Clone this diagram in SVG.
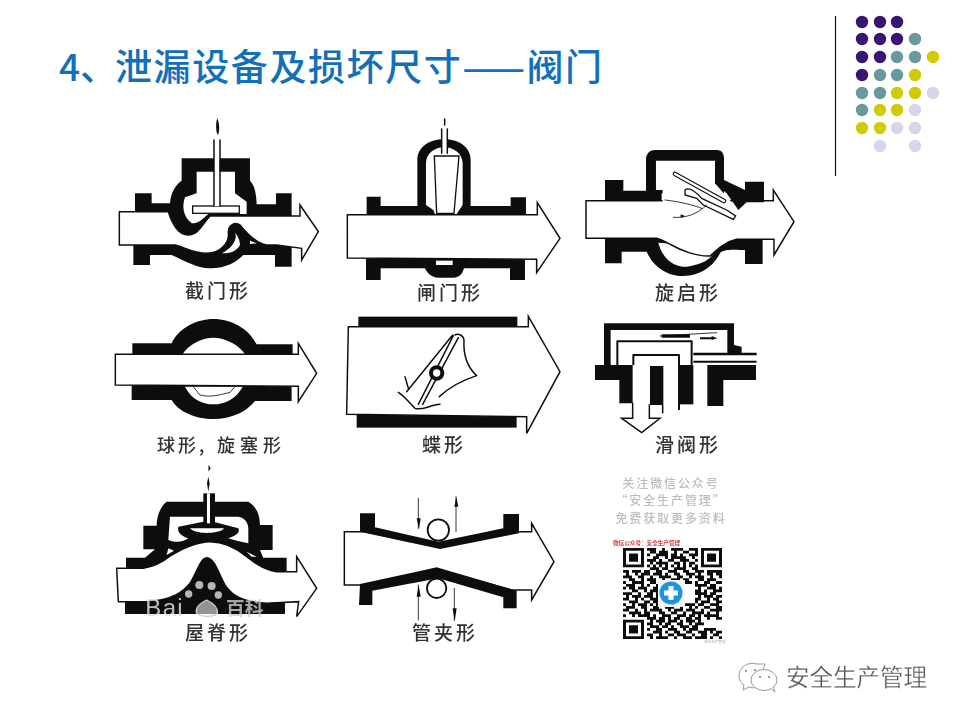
<svg xmlns="http://www.w3.org/2000/svg" width="960" height="720" viewBox="0 0 960 720">
<style>
.b{fill:#111}
.w{fill:#fff}
.f{fill:#fff;stroke:#111;stroke-width:4.5;stroke-linejoin:miter}
.l{fill:none;stroke:#111;stroke-width:4.5;stroke-linecap:round;stroke-linejoin:round}
.n{fill:none;stroke:#111;stroke-width:2.5;stroke-linecap:round}
.cap{font-family:"Noto Sans CJK SC","Liberation Sans",sans-serif;font-size:19px;font-weight:500;letter-spacing:3px;fill:#333}
.wm{font-family:"Noto Sans CJK SC","Liberation Sans",sans-serif;font-weight:500;font-size:12px;letter-spacing:1.9px;fill:#bdbdbd;text-anchor:middle}
.p{fill:#3a1473}.t{fill:#669a9c}.y{fill:#cfcc05}.v{fill:#d6d6ea}
.ttl{font-family:"Noto Sans CJK SC","Liberation Sans",sans-serif;font-size:37px;font-weight:500;fill:#1270bb}
</style>
<defs>
<filter id="soft" x="-5%" y="-5%" width="110%" height="110%"><feGaussianBlur stdDeviation="0.55"/></filter>
<filter id="soft2" x="-5%" y="-5%" width="110%" height="110%"><feGaussianBlur stdDeviation="0.35"/></filter>
</defs>
<rect width="960" height="720" fill="#fff"/>

<text id="title" class="ttl" y="81"><tspan x="59">4、</tspan><tspan x="115" letter-spacing="1.6">泄漏设备及损坏尺寸——阀门</tspan></text>

<g id="ornament">
<line x1="835.500" y1="16" x2="835.500" y2="176" stroke="#111" stroke-width="1.2"/>
<g class="p"><circle cx="862" cy="22" r="6.2"/><circle cx="880" cy="22" r="6.2"/><circle cx="897" cy="22" r="6.2"/><circle cx="862" cy="39" r="6.2"/><circle cx="880" cy="39" r="6.2"/><circle cx="897" cy="39" r="6.2"/><circle cx="862" cy="57" r="6.2"/><circle cx="880" cy="57" r="6.2"/><circle cx="862" cy="75" r="6.2"/></g>
<g class="t"><circle cx="915" cy="39" r="6.2"/><circle cx="897" cy="57" r="6.2"/><circle cx="915" cy="57" r="6.2"/><circle cx="880" cy="75" r="6.2"/><circle cx="897" cy="75" r="6.2"/><circle cx="862" cy="93" r="6.2"/><circle cx="880" cy="93" r="6.2"/><circle cx="862" cy="110" r="6.2"/></g>
<g class="y"><circle cx="933" cy="57" r="6.2"/><circle cx="915" cy="75" r="6.2"/><circle cx="897" cy="93" r="6.2"/><circle cx="915" cy="93" r="6.2"/><circle cx="880" cy="110" r="6.2"/><circle cx="897" cy="110" r="6.2"/><circle cx="862" cy="128" r="6.2"/><circle cx="880" cy="128" r="6.2"/></g>
<g class="v"><circle cx="933" cy="93" r="6.2"/><circle cx="915" cy="110" r="6.2"/><circle cx="897" cy="128" r="6.2"/><circle cx="915" cy="128" r="6.2"/><circle cx="880" cy="146" r="6.2"/><circle cx="915" cy="146" r="6.2"/></g>
</g>

<g id="valves" filter="url(#soft)">

<g id="valve-globe" transform="translate(100,110) scale(.3333)">
<path class="b" d="M105,250H155V280H210C212,250 225,225 245,212V145H450V212C465,225 470,260 470,283H528V250H575V320H340V385H195V320H105Z"/>
<path class="b" d="M100,400H350L400,335H440L530,400H575V470H525V435H430C410,455 380,475 330,475C290,475 250,450 215,435H150V465H100Z"/>
<path class="w" d="M290,185H405V250L440,275V312H325C305,330 295,340 275,340C250,320 245,290 255,262L290,250Z"/>
<path class="f" d="M58,305H205C215,340 235,375 265,375C295,375 305,345 330,318H600V285L655,365L605,450V415L530,405H500C470,400 440,370 420,345C405,335 385,345 385,365C390,400 360,430 320,430C280,430 250,410 225,405H58Z"/>
<path class="w" d="M405,368C412,380 405,410 365,430C390,430 410,425 420,405C420,390 412,375 405,368Z"/>
<path class="w" d="M450,392L470,400L450,402Z"/>
<rect x="278" y="288" width="140" height="22" fill="#fff" stroke="#111" stroke-width="4"/>
<rect x="342" y="85" width="17" height="203" fill="#fff"/>
<path class="l" d="M342,90V287M360,90V287"/>
<path class="b" d="M352,25C358,40 360,60 354,75C348,70 346,40 352,25Z"/>
</g>

<g id="valve-gate" transform="translate(340,110) scale(.3333)">
<path class="b" d="M80,260H122V288H232V150C232,110 270,88 312,88C355,88 392,110 392,150V288H512V262H558V320H80Z"/>
<path class="w" d="M258,160C258,130 285,112 312,112C340,112 368,130 368,160V285L350,312H285L280,300L258,285Z"/>
<path class="f" style="stroke-width:4" d="M283,138H357L342,310H290Z"/>
<path class="b" d="M78,445H555V510H510V475H372C368,490 360,503 340,503H295C275,503 262,490 255,475H122V510H78Z"/>
<rect x="288" y="452" width="50" height="13" fill="#fff"/>
<path class="f" d="M22,314H592V278L660,385L590,488V448L22,444Z"/>
<rect x="306" y="55" width="15" height="78" fill="#fff"/>
<path class="l" d="M305,57V130M322,57V130"/>
<path class="l" d="M314,27V45"/>
</g>

<g id="valve-swing" transform="translate(570,130) scale(.3333)">
<path class="b" d="M105,150H160V182H228V85C230,70 240,60 255,60H440C455,60 462,70 462,85V190H258V180H275V215H105Z"/>
<path class="b" d="M105,320H578V402H525V360C500,360 460,355 450,370C430,410 390,438 340,438C290,438 250,410 230,365H155V400H105Z"/>
<path class="w" d="M265,338C280,395 320,412 350,410C385,405 410,395 425,378L360,345Z"/>
<path class="f" d="M48,212H610V180L672,275L612,375V328H500C465,335 440,360 420,378C380,380 330,360 305,345C290,338 280,330 260,325H48Z"/>
<path class="w" d="M258,92H435V160L505,240L495,262L290,262L278,216V180H258Z"/>
<path class="b" d="M435,140L462,150L525,180V155H582V217H530L505,240L470,190L435,160Z"/>
<path class="f" style="stroke-width:4" d="M345,180C355,172 372,180 395,205L470,240L497,258L490,268L400,225L380,205L345,195Z"/>
<path d="M315,132L462,213" fill="none" stroke="#111" stroke-width="14" stroke-linecap="round"/>
<path d="M315,132L462,213" fill="none" stroke="#fff" stroke-width="7.5" stroke-linecap="round"/>
<path class="n" d="M285,210C330,215 370,225 395,235M310,262C350,265 385,250 410,225"/>
<path d="M345,258L332,253V264Z" fill="#111"/>
</g>

<g id="valve-ball" transform="translate(100,305) scale(.3333)">
<path class="b" d="M97,115H215C235,70 290,42 340,42C395,42 445,70 470,118H578V155H97Z"/>
<path class="w" d="M245,152C265,115 310,98 340,98C375,98 420,120 438,152Z"/>
<path class="b" d="M95,240H575V288H465C440,320 395,342 340,342C285,342 235,320 215,285H95Z"/>
<path class="w" d="M255,245C275,285 310,298 340,298C375,298 410,280 428,245Z"/>
<path class="n" d="M280,245L300,270C330,278 360,270 390,262L405,245"/>
<path class="f" d="M46,148H595V115L650,205L595,290V244L46,240Z"/>
</g>

<g id="valve-butterfly" transform="translate(340,305) scale(.3333)">
<rect x="55" y="35" width="477" height="38" class="b"/>
<rect x="50" y="330" width="480" height="38" class="b"/>
<path class="f" d="M25,65H565V34L660,200L560,385V335L20,328Z"/>
<path class="l" d="M345,90C355,85 370,90 372,105C370,140 375,180 410,212C370,225 330,245 298,275M338,90L200,260M355,98L248,298M340,92L235,298M195,215L205,250M175,262C195,275 205,290 225,310C245,318 270,300 300,298"/>
<circle cx="290" cy="204" r="23" class="b"/>
<circle cx="290" cy="204" r="11" class="w"/>
</g>

<g id="valve-slide" transform="translate(580,310) scale(.3333)">
<path class="b" d="M72,40H462V105L485,110V128H530V136H340V128H442V60H92V165H72Z"/>
<path class="b" d="M45,165H158V280H118V210H45Z"/>
<rect x="210" y="168" width="40" height="117" class="b"/>
<rect x="300" y="165" width="40" height="118" class="b"/>
<path class="b" d="M382,165H528V210H430V288H382Z"/>
<path class="b" d="M340,152H530V158H340Z"/>
<path class="l" style="stroke-width:6;stroke-linecap:butt" d="M112,165V94H335V165M160,165V135H297V300"/>
<path class="l" style="stroke-linecap:butt" d="M248,285V310"/>
<path class="l" style="stroke-linejoin:miter" d="M158,280V325H125L185,368L240,325H208V285"/>
<path class="b" d="M245,73H330V83H245ZM360,82H395V88H360ZM395,78L412,85L395,90Z"/>
<path class="n" d="M240,78L410,68"/>
</g>

<g id="valve-diaphragm" transform="translate(100,460) scale(.3333)">
<path class="b" d="M200,125H445C470,140 480,165 480,195H518V270H480L490,293H560V335H510V420H555V462H75V420H120V330H78V293H135L165,268H130V197H170C170,170 180,140 200,125Z"/>
<path class="w" d="M210,170H415C440,175 445,195 445,205V250C420,245 400,240 385,235C415,225 420,215 415,205L340,185H310L235,200C230,220 250,230 265,235C250,245 230,250 205,240Z"/>
<path class="w" d="M270,205H372C365,215 340,219 320,219C300,219 280,215 270,205Z"/>
<path class="b" d="M310,100H345V190H310Z"/>
<rect x="321" y="100" width="9" height="90" class="w"/>
<path class="b" d="M325,15L332,25L326,35ZM325,50L329,70L325,95L321,70Z"/>
<path class="f" d="M50,325H130C165,320 190,305 215,285C255,260 300,245 330,245C370,245 410,265 440,290C470,315 495,330 530,335H590V290L650,385L590,470L596,425L500,430C420,425 395,405 375,375C355,340 345,295 320,293C300,295 290,340 270,370C250,395 220,420 140,425H55Z"/>
<path class="w" d="M205,265L222,272L200,285ZM440,275L455,290L470,290Z"/>
<g fill="#c8c8c8" opacity=".9"><circle cx="266" cy="402" r="11"/><circle cx="298" cy="375" r="12"/><circle cx="335" cy="378" r="12"/><circle cx="355" cy="405" r="11"/></g>
<path d="M320,420C300,430 285,445 290,460C305,472 340,472 352,460C355,445 340,430 320,420Z" fill="#fff" fill-opacity=".55" stroke="#ccc" stroke-width="4"/>
<text x="136" y="467" font-family="'Liberation Sans',sans-serif" font-size="72" fill="#ddd" fill-opacity=".85" letter-spacing="4">Bai</text>
<text x="378" y="465" font-family="'Noto Sans CJK SC',sans-serif" font-size="56" font-weight="700" fill="#ccc" fill-opacity=".8">百科</text>
</g>

<g id="valve-pinch" transform="translate(335,470) scale(.3333)">
<path class="f" d="M28,185H90L310,232L555,185H590V160L657,275L590,390V360H530L305,298L90,345H28Z"/>
<path class="b" d="M75,130H120V172L310,215L505,175V132H552V190L315,237L75,185Z"/>
<path class="b" d="M75,342L305,292L545,362V415H505V382L310,325L112,362V405H72Z"/>
<circle cx="310" cy="180" r="32" fill="#fff" stroke="#111" stroke-width="5.5"/>
<circle cx="305" cy="355" r="29" fill="#fff" stroke="#111" stroke-width="5.5"/>
<path class="n" d="M250,85V175M363,80V185M250,345V450M358,355V450"/>
<path class="b" d="M245,145H257L252,178ZM358,110H370L364,80ZM245,380H257L251,345ZM353,415H365L359,455Z"/>
</g>

<g id="labels">
<text class="cap" x="185" y="298">截门形</text>
<text class="cap" x="417" y="300">闸门形</text>
<text class="cap" x="655" y="300">旋启形</text>
<text class="cap" y="452" style="font-size:18px;letter-spacing:0" x="157 178 199 203 217 240 263">球形, 旋塞形</text>
<text class="cap" x="422" y="452">蝶形</text>
<text class="cap" x="655" y="452">滑阀形</text>
<text class="cap" x="185" y="640">屋脊形</text>
<text class="cap" x="412" y="640">管夹形</text>
</g>

<g id="qr-panel">
<text class="wm" x="671" y="487.500">关注微信公众号</text>
<text class="wm" x="671" y="505">“安全生产管理”</text>
<text class="wm" x="671" y="522.500">免费获取更多资料</text>
<text x="613" y="545" font-family="'Noto Sans CJK SC',sans-serif" font-size="5.600" font-weight="700" fill="#d83a3a">微信公众号：安全生产管理</text>
<g transform="translate(623,548) scale(3,2.76)">
<path fill="none" stroke="#111" stroke-width="1" d="M.5,.5h6v6h-6zM26.5,.5h6v6h-6zM.5,26.5h6v6h-6z"/>
<path fill="#111" d="M2,2h3v3h-3zM28,2h3v3h-3zM2,28h3v3h-3z"/>
<path fill="none" stroke="#111" stroke-width="1" d="M8,.5h3M13,.5h1M16,.5h4M22,.5h3M9,1.5h2M12,1.5h3M17,1.5h1M20,1.5h2M24,1.5h1M8,2.5h1M11,2.5h4M16,2.5h2M19,2.5h1M22,2.5h3M10,3.5h2M14,3.5h1M16,3.5h5M23,3.5h1M8,4.5h3M12,4.5h1M15,4.5h2M19,4.5h3M24,4.5h1M9,5.5h1M11,5.5h4M17,5.5h2M20,5.5h1M22,5.5h2M8,6.5h1M10,6.5h1M12,6.5h1M14,6.5h1M16,6.5h1M18,6.5h1M20,6.5h1M22,6.5h1M24,6.5h1M9,7.5h3M13,7.5h2M17,7.5h4M23,7.5h2M0,8.5h2M3,8.5h3M7,8.5h2M11,8.5h2M15,8.5h3M20,8.5h2M24,8.5h3M28,8.5h5M1,9.5h1M4,9.5h1M6,9.5h3M10,9.5h3M14,9.5h1M17,9.5h2M21,9.5h3M25,9.5h1M28,9.5h2M31,9.5h2M0,10.5h3M5,10.5h2M9,10.5h1M12,10.5h4M18,10.5h2M22,10.5h1M24,10.5h3M29,10.5h1M32,10.5h1M2,11.5h2M6,11.5h1M8,11.5h3M13,11.5h1M16,11.5h3M20,11.5h2M25,11.5h2M28,11.5h3M0,12.5h1M3,12.5h4M9,12.5h2M12,12.5h2M15,12.5h1M19,12.5h4M24,12.5h1M27,12.5h2M31,12.5h2M1,13.5h3M6,13.5h1M8,13.5h1M11,13.5h3M24,13.5h4M29,13.5h2M0,14.5h1M2,14.5h2M5,14.5h3M10,14.5h2M25,14.5h1M28,14.5h3M32,14.5h1M3,15.5h2M7,15.5h1M9,15.5h3M24,15.5h2M27,15.5h1M30,15.5h3M0,16.5h3M5,16.5h1M8,16.5h2M11,16.5h1M24,16.5h4M29,16.5h2M1,17.5h1M3,17.5h3M7,17.5h3M11,17.5h1M25,17.5h1M27,17.5h3M31,17.5h2M0,18.5h2M4,18.5h1M6,18.5h1M9,18.5h3M24,18.5h2M28,18.5h1M30,18.5h2M2,19.5h3M7,19.5h2M10,19.5h2M24,19.5h1M26,19.5h3M31,19.5h2M0,20.5h1M3,20.5h1M5,20.5h3M9,20.5h1M11,20.5h4M16,20.5h2M20,20.5h4M25,20.5h2M29,20.5h3M1,21.5h3M6,21.5h2M10,21.5h2M14,21.5h3M19,21.5h1M22,21.5h1M24,21.5h1M27,21.5h2M31,21.5h2M0,22.5h2M4,22.5h1M7,22.5h1M9,22.5h4M15,22.5h1M17,22.5h3M21,22.5h3M26,22.5h1M29,22.5h4M2,23.5h4M7,23.5h2M12,23.5h2M16,23.5h2M20,23.5h1M23,23.5h4M28,23.5h1M31,23.5h1M0,24.5h1M3,24.5h1M5,24.5h4M10,24.5h1M13,24.5h3M18,24.5h3M22,24.5h2M25,24.5h1M27,24.5h5M8,25.5h3M12,25.5h2M15,25.5h1M17,25.5h2M21,25.5h2M24,25.5h2M28,25.5h1M31,25.5h2M9,26.5h1M11,26.5h3M15,26.5h3M19,26.5h1M21,26.5h3M25,26.5h1M8,27.5h2M12,27.5h1M14,27.5h2M18,27.5h2M22,27.5h1M24,27.5h3M9,28.5h3M13,28.5h2M16,28.5h1M19,28.5h3M23,28.5h2M8,29.5h1M11,29.5h2M15,29.5h3M20,29.5h1M22,29.5h3M27,29.5h4M10,30.5h3M14,30.5h1M17,30.5h2M21,30.5h2M25,30.5h3M29,30.5h1M31,30.5h2M8,31.5h2M12,31.5h1M15,31.5h2M18,31.5h3M23,31.5h1M26,31.5h2M30,31.5h2M9,32.5h1M11,32.5h4M17,32.5h1M20,32.5h3M24,32.5h4M29,32.5h1M32,32.5h1"/>
</g>
<rect x="658" y="580" width="27" height="27" fill="#f4f8fb"/>
<circle cx="671" cy="593" r="11.500" fill="#1f95e0"/>
<path d="M668.500,586h5v4.500h4.500v5h-4.500v4.500h-5v-4.500h-4.500v-5h4.500z" fill="#fff"/>
<text x="704" y="643" font-family="'Noto Sans CJK SC',sans-serif" font-size="3.600" fill="#aaa">安全生产管理</text>
</g>
</g>

<g id="footer" filter="url(#soft2)">
<g fill="#fff" stroke="#999" stroke-width="1">
<path d="M757,664C747,661 739,668 739,676C739,680 741,683 744,685L743,690L749,687C752,688 755,688 758,687L765,664Z"/>
<ellipse cx="764" cy="680" rx="13" ry="10.500"/>
<path d="M770,688L775,692L773,686"/>
</g>
<g fill="#777"><circle cx="746" cy="671" r="1"/><circle cx="755" cy="670" r="1"/><circle cx="760" cy="677" r="1"/><circle cx="769" cy="677" r="1"/></g>
<text x="786" y="686" font-family="'Noto Sans CJK SC','Liberation Sans',sans-serif" font-size="23.500" fill="#555" stroke="#fff" stroke-width=".3">安全生产管理</text>
</g>
</svg>
